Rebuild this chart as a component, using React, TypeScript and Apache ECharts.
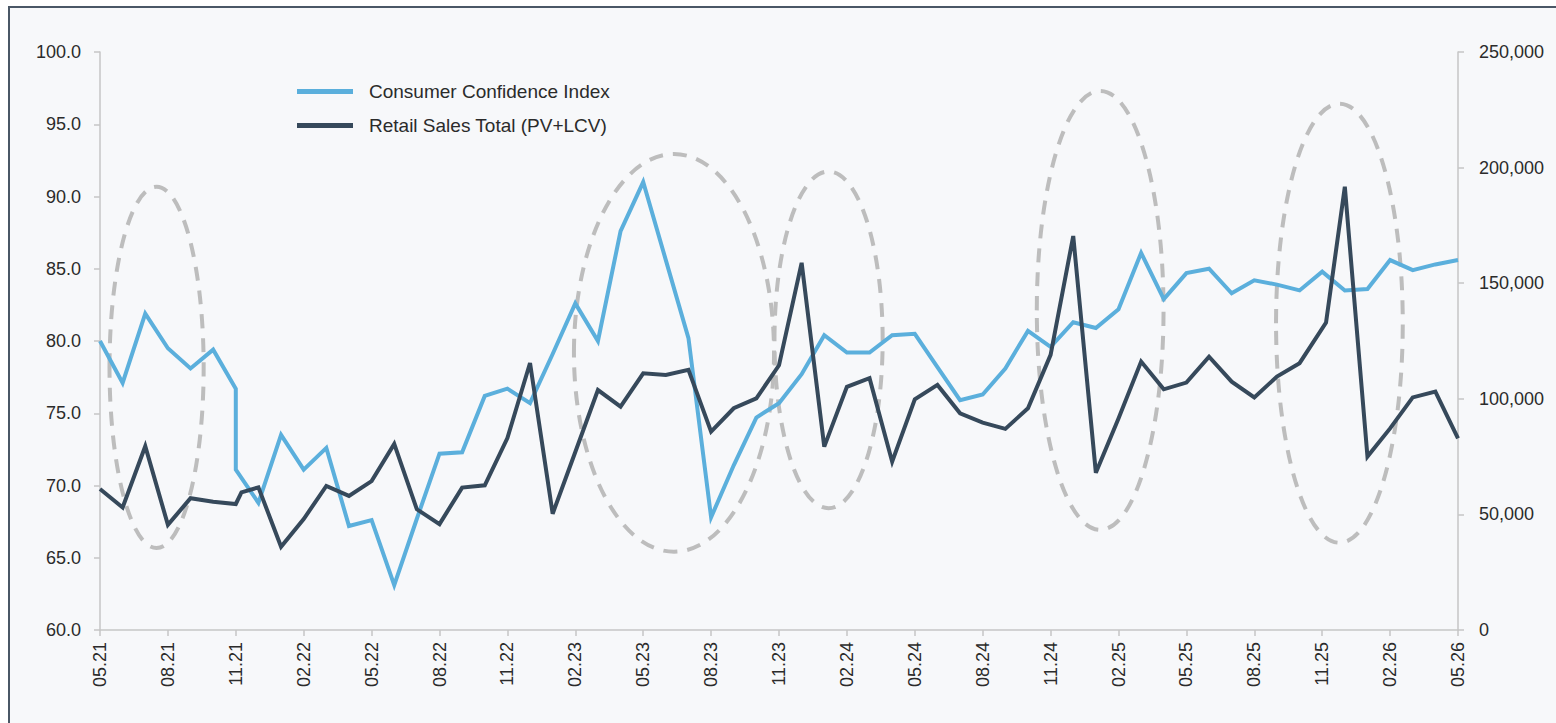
import React, { useEffect, useRef } from "react";
import * as echarts from "echarts";

// x = month index from 05.21 (0) to 05.26 (60)
const tickLabels = [
  "05.21", "08.21", "11.21", "02.22", "05.22", "08.22", "11.22",
  "02.23", "05.23", "08.23", "11.23", "02.24", "05.24", "08.24",
  "11.24", "02.25", "05.25", "08.25", "11.25", "02.26", "05.26",
];

const cciName = "Consumer Confidence Index";
const salesName = "Retail Sales Total (PV+LCV)";

const cciData: [number, number][] = [
  [0, 80.0], [1, 77.1], [2, 81.9], [3, 79.5], [4, 78.1], [5, 79.4],
  [6, 76.7], [6, 71.1], [7, 68.8], [8, 73.5], [9, 71.1], [10, 72.6],
  [11, 67.2], [12, 67.6], [13, 63.1], [14, 67.7], [15, 72.2], [16, 72.3],
  [17, 76.2], [18, 76.7], [19, 75.7], [20, 79.1], [21, 82.6], [22, 80.0],
  [23, 87.6], [24, 91.0], [25, 85.6], [26, 80.2], [27, 67.8], [28, 71.4],
  [29, 74.7], [30, 75.7], [31, 77.7], [32, 80.4], [33, 79.2], [34, 79.2],
  [35, 80.4], [36, 80.5], [37, 78.2], [38, 75.9], [39, 76.3], [40, 78.1],
  [41, 80.7], [42, 79.6], [43, 81.3], [44, 80.9], [45, 82.2], [46, 86.1],
  [47, 82.9], [48, 84.7], [49, 85.0], [50, 83.3], [51, 84.2], [52, 83.9],
  [53, 83.5], [54, 84.8], [55, 83.5], [56, 83.6], [57, 85.6], [58, 84.9],
  [59, 85.3], [60, 85.6],
];

const salesData: [number, number][] = [
  [0, 61000], [1, 53000], [2, 79500], [3, 45500], [4, 57000], [5, 55500],
  [6, 54500], [6.25, 59500], [7, 61700], [8, 36000], [9, 48000], [10, 62300],
  [11, 58000], [12, 64400], [13, 80500], [14, 52200], [15, 45800], [16, 61600],
  [17, 62600], [18, 83000], [19, 115500], [20, 50300], [21, 77000], [22, 103800],
  [23, 96600], [24, 111000], [25, 110300], [26, 112500], [27, 85800], [28, 95900],
  [29, 100200], [30, 114500], [31, 158800], [32, 79300], [33, 105200], [34, 108900],
  [35, 72800], [36, 99800], [37, 106000], [38, 93700], [39, 89700], [40, 87000],
  [41, 95900], [42, 119000], [43, 170400], [44, 68000], [45, 91500], [46, 116100],
  [47, 104100], [48, 107000], [49, 118200], [50, 107400], [51, 100600], [52, 109600],
  [53, 115400], [54.17, 133000], [55, 191700], [56, 75000], [57, 87200], [58, 100600],
  [59, 103100], [60, 82900],
];

// highlight ellipses in data units: [centerMonth, centerIndexValue], [radiusMonths, radiusIndexUnits]
const highlightCenters: [number, number][] = [
  [2.5, 78.17], [25.36, 79.18], [32.19, 80.08], [44.19, 82.12], [54.76, 81.23],
];
const highlightRadii: [number, number][] = [
  [2.08, 12.5], [4.42, 13.76], [2.39, 11.65], [2.8, 15.19], [2.8, 15.19],
];

const FONT = "'Liberation Sans', Arial, Helvetica, sans-serif";
const AXIS_COLOR = "#c6c6c6";
const LABEL_COLOR = "#2b2b2b";

export default function App() {
  const ref = useRef<HTMLDivElement>(null);

  useEffect(() => {
    if (!ref.current) return;
    const chart = echarts.init(ref.current, undefined, { renderer: "svg" });
    const axisLine = { show: true, lineStyle: { color: AXIS_COLOR, width: 1.5 } };
    const axisTick = { show: true, length: 6, lineStyle: { color: AXIS_COLOR, width: 1.5 } };
    chart.setOption({
      animation: false,
      backgroundColor: "transparent",
      textStyle: { fontFamily: FONT },
      grid: { left: 100, right: 98, top: 52, bottom: 93, containLabel: false },
      legend: {
        orient: "vertical",
        left: 292,
        top: 77,
        itemWidth: 56,
        itemHeight: 5,
        itemGap: 15,
        icon: "rect",
        textStyle: { fontSize: 19, color: LABEL_COLOR, fontFamily: FONT, padding: [0, 0, 0, 11] },
        data: [cciName, salesName],
      },
      xAxis: {
        type: "value",
        min: 0,
        max: 60,
        interval: 3,
        axisLine,
        axisTick,
        splitLine: { show: false },
        axisLabel: {
          rotate: 90,
          margin: 12,
          fontSize: 18,
          color: LABEL_COLOR,
          fontFamily: FONT,
          formatter: (v: number) => tickLabels[Math.round(v / 3)] ?? "",
        },
      },
      yAxis: [
        {
          type: "value",
          min: 60,
          max: 100,
          interval: 5,
          position: "left",
          axisLine,
          axisTick,
          splitLine: { show: false },
          axisLabel: {
            margin: 19,
            fontSize: 18,
            color: LABEL_COLOR,
            fontFamily: FONT,
            formatter: (v: number) => v.toFixed(1),
          },
        },
        {
          type: "value",
          min: 0,
          max: 250000,
          interval: 50000,
          position: "right",
          axisLine,
          axisTick,
          splitLine: { show: false },
          axisLabel: {
            margin: 21,
            fontSize: 18,
            color: LABEL_COLOR,
            fontFamily: FONT,
            formatter: (v: number) => v.toLocaleString("en-US"),
          },
        },
      ],
      series: [
        {
          name: cciName,
          type: "line",
          yAxisIndex: 0,
          data: cciData,
          showSymbol: false,
          symbol: "none",
          z: 3,
          lineStyle: { color: "#5BAFDC", width: 4, join: "miter" },
          itemStyle: { color: "#5BAFDC" },
        },
        {
          name: salesName,
          type: "line",
          yAxisIndex: 1,
          data: salesData,
          showSymbol: false,
          symbol: "none",
          z: 4,
          lineStyle: { color: "#36495B", width: 4, join: "miter" },
          itemStyle: { color: "#36495B" },
        },
      ],
    });

    const ellipses = highlightCenters.map((c, i) => {
      const center = chart.convertToPixel({ xAxisIndex: 0, yAxisIndex: 0 }, c) as number[];
      const edge = chart.convertToPixel({ xAxisIndex: 0, yAxisIndex: 0 }, [
        c[0] + highlightRadii[i][0],
        c[1] + highlightRadii[i][1],
      ]) as number[];
      return {
        type: "ellipse",
        z: 1,
        silent: true,
        shape: {
          cx: center[0],
          cy: center[1],
          rx: Math.abs(edge[0] - center[0]),
          ry: Math.abs(edge[1] - center[1]),
        },
        style: { fill: "none", stroke: "#bdbdbd", lineWidth: 4, lineDash: [14, 10] },
      };
    });
    chart.setOption({ graphic: ellipses });

    return () => chart.dispose();
  }, []);

  return (
    <div style={{ position: "fixed", left: 0, top: 0, width: 1556, height: 723, background: "#ffffff", overflow: "hidden" }}>
      <div
        style={{
          position: "absolute",
          left: 8,
          top: 6,
          width: 1570,
          height: 740,
          borderTop: "2px solid #4a5766",
          borderLeft: "2px solid #4a5766",
          background: "#f7f8fa",
        }}
      />
      <div ref={ref} style={{ position: "absolute", left: 0, top: 0, width: 1556, height: 723 }} />
    </div>
  );
}
